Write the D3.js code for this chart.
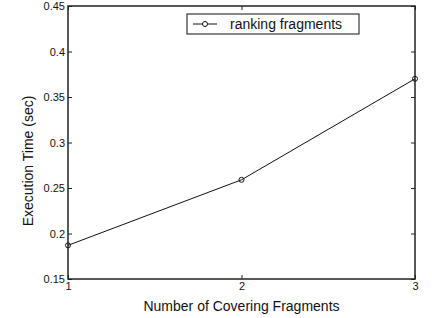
<!DOCTYPE html>
<html>
<head>
<meta charset="utf-8">
<script src="https://cdn.jsdelivr.net/npm/d3@7"></script>
<style>
  body { margin: 0; background: #fff; }
  text { font-family: "Liberation Sans", Arial, sans-serif; }
</style>
</head>
<body>
<svg id="chart" width="432" height="318"></svg>
<script>
// Data
const coveringFragments = [1, 2, 3];
const executionTime = [0.187, 0.259, 0.370];
const yTicks = [0.15, 0.2, 0.25, 0.3, 0.35, 0.4, 0.45];
const xTicks = [1, 2, 3];
const seriesName = "ranking fragments";

const svg = d3.select("#chart");
const margin = {left: 68, right: 17, top: 6, bottom: 39};
const width = 432, height = 318;
const plotW = width - margin.left - margin.right;
const plotH = height - margin.top - margin.bottom;

const x = d3.scaleLinear().domain([1, 3]).range([0, plotW]);
const y = d3.scaleLinear().domain([0.15, 0.45]).range([plotH, 0]);

const g = svg.append("g").attr("transform", `translate(${margin.left},${margin.top})`);

// Axes with inward ticks (box style)
function styleAxis(sel) {
  sel.select(".domain").remove();
  sel.selectAll("line").attr("stroke", "#222");
  sel.selectAll("text").attr("fill", "#111").style("font-size", "11px");
}

g.append("g").attr("transform", `translate(0,${plotH})`)
  .call(d3.axisBottom(x).tickValues(xTicks).tickFormat(d3.format("d")).tickSizeInner(-4).tickSizeOuter(0).tickPadding(3))
  .call(styleAxis);
g.append("g")
  .call(d3.axisTop(x).tickValues(xTicks).tickFormat("").tickSizeInner(-4).tickSizeOuter(0))
  .call(styleAxis);
g.append("g")
  .call(d3.axisLeft(y).tickValues(yTicks).tickFormat(d => String(d)).tickSizeInner(-4).tickSizeOuter(0).tickPadding(3))
  .call(styleAxis);
g.append("g").attr("transform", `translate(${plotW},0)`)
  .call(d3.axisRight(y).tickValues(yTicks).tickFormat("").tickSizeInner(-4).tickSizeOuter(0))
  .call(styleAxis);

// Plot box
g.append("rect")
  .attr("width", plotW).attr("height", plotH)
  .attr("fill", "none").attr("stroke", "#222").attr("stroke-width", 1.5);

// Data line
const pts = coveringFragments.map((c, i) => [c, executionTime[i]]);
g.append("path")
  .datum(pts)
  .attr("fill", "none").attr("stroke", "#111").attr("stroke-width", 1)
  .attr("d", d3.line().x(d => x(d[0])).y(d => y(d[1])));
g.selectAll("circle.pt")
  .data(pts).join("circle")
  .attr("class", "pt")
  .attr("cx", d => x(d[0])).attr("cy", d => y(d[1]))
  .attr("r", 2.5).attr("fill", "none").attr("stroke", "#111").attr("stroke-width", 1);

// Legend
const lg = svg.append("g").attr("transform", "translate(187,14)");
lg.append("rect").attr("width", 172).attr("height", 20)
  .attr("fill", "#fff").attr("stroke", "#111").attr("stroke-width", 1);
lg.append("line").attr("x1", 6).attr("x2", 30).attr("y1", 10).attr("y2", 10)
  .attr("stroke", "#111");
lg.append("circle").attr("cx", 18).attr("cy", 10).attr("r", 2.5)
  .attr("fill", "#fff").attr("stroke", "#111");
lg.append("text").attr("x", 43).attr("y", 15)
  .attr("fill", "#111").style("font-size", "14px").text(seriesName);

// Axis titles
svg.append("text")
  .attr("x", margin.left + plotW / 2).attr("y", 311)
  .attr("text-anchor", "middle").attr("fill", "#111").style("font-size", "14px")
  .text("Number of Covering Fragments");
svg.append("text")
  .attr("transform", "translate(33,161) rotate(-90)")
  .attr("text-anchor", "middle").attr("fill", "#111").style("font-size", "14px")
  .text("Execution Time (sec)");
</script>
</body>
</html>
